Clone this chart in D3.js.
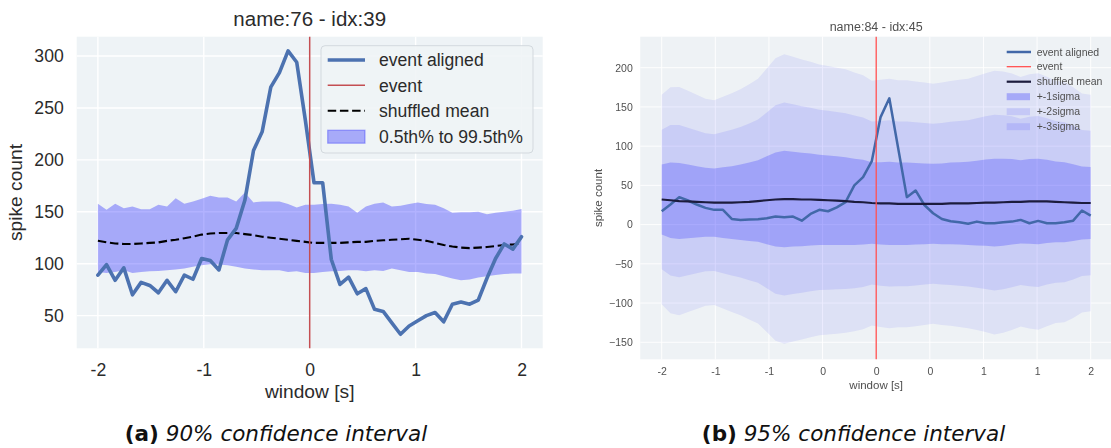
<!DOCTYPE html>
<html>
<head>
<meta charset="utf-8">
<script src="https://cdn.jsdelivr.net/npm/d3@7"></script>
<style>
  html, body { margin: 0; padding: 0; background: #fff; }
  svg { display: block; }
</style>
</head>
<body>
<svg id="fig" width="1111" height="448"></svg>
<script>
// Time base shared by both panels: 50 bin centres across the ±2 s window
const windowSec = d3.range(50).map(i => -2 + i * 4 / 49);

// ---- Panel (a): name 76, idx 39 — percentile band of the shuffled counts
const alignedA = [89, 99, 84, 96, 70, 82, 79, 72, 84, 73,
  89, 85, 105, 103, 94, 123, 134, 161, 209, 227,
  270, 284, 305, 294, 238, 178, 178, 104, 80, 87,
  71, 76, 56, 54, 43, 32, 40, 45, 50, 53,
  44, 61, 63, 61, 65, 86, 105, 119, 114, 126];
const shuffledMeanA = [122, 120.5, 119.5, 119, 119, 119.5, 120, 120.5, 122, 123,
  124.5, 126, 128, 129, 129.5, 129.5, 129.5, 128.5, 127.5, 126,
  125, 124, 123, 122, 121, 120, 120, 120, 120, 120.5,
  121, 121, 122, 122.5, 123, 123.5, 124, 123, 122, 120,
  118, 116.5, 115.5, 115, 115.5, 116, 117, 118, 118.5, 119.5];
const pctHighA = [157.7, 152, 157.7, 153.5, 155, 152.5, 152.5, 156.7, 155, 163,
  157.7, 160, 162.5, 165.4, 163.8, 163.8, 160, 168.6, 159, 160,
  160, 160, 157.4, 154.2, 156.7, 156.7, 157.4, 157.7, 156.7, 155,
  149, 155, 157.7, 159, 155, 155.8, 157.4, 159, 157.4, 156.7,
  153.5, 149, 149.5, 149.5, 150, 147.5, 149, 150, 151, 152.6];
const pctLowA = [92, 91, 92, 93.7, 91, 92, 92.8, 93, 93.7, 94.4,
  95.3, 97, 98.5, 99.5, 99.2, 98.5, 97, 95.3, 94.4, 93.7,
  93.7, 93.7, 92, 92.8, 91, 91, 92, 92.8, 93, 93.7,
  93.7, 92.8, 93.7, 93, 95.3, 93.7, 92, 92, 90.5, 90,
  88, 85.7, 84, 84.7, 86.7, 88, 89, 90, 90.5, 90.5];
const yTicksA = [50, 100, 150, 200, 250, 300];
const xTicksA = [-2, -1, 0, 1, 2];
const legendA = ["event aligned", "event", "shuffled mean", "0.5th% to 99.5th%"];

// ---- Panel (b): name 84, idx 45 — sigma bands around the shuffled mean
const alignedB = [17, 25.6, 35, 30.7, 25.6, 21.3, 18.8, 18.8, 7.2, 6,
  6.4, 6.8, 8.1, 10.2, 9.4, 10.2, 5, 13.6, 18.8, 17,
  22, 28.6, 50, 60.5, 81, 137, 161, 98, 35, 43.5,
  25, 14.5, 7.2, 4.3, 3, 1, 3.8, 1.7, 1.7, 3,
  3.8, 6, 1.7, 4.7, 1.7, 1.7, 3, 5, 18, 11.5];
const shuffledMeanB = [32, 31, 30, 29.5, 29, 28.5, 28, 28, 28, 28.5,
  29, 30, 31, 32, 32.5, 32.5, 32, 32, 31.5, 31,
  30.5, 30, 29, 28.5, 27.5, 27, 27, 26.5, 26.5, 26.5,
  26.5, 26.5, 26.5, 27, 27, 27, 27.5, 28, 28, 28.5,
  29, 29, 29.5, 29.5, 29.5, 29, 28.5, 28, 27.5, 27.5];
const shuffledSdB = [44.5, 48, 48.5, 47, 45.5, 44, 43.5, 45, 46.5, 48,
  50, 52, 56, 60, 61.5, 60.5, 59.5, 58.5, 57.5, 57,
  56.5, 56, 55, 54, 52, 52.5, 53, 52.5, 52.5, 52,
  51.5, 51, 51.5, 52, 52.5, 53, 54, 55, 56, 55.5,
  54.5, 53, 54, 54.5, 53, 51.5, 51, 49, 46.5, 46];
const sigmaLevels = [3, 2, 1];
const yTicksB = [-150, -100, -50, 0, 50, 100, 150, 200];
const xTicksB = [-2, -1.5, -1, -0.5, 0, 0.5, 1, 1.5, 2];
const legendB = ["event aligned", "event", "shuffled mean", "+-1sigma", "+-2sigma", "+-3sigma"];

const captionA = ["(a)", " 90% confidence interval"];
const captionB = ["(b)", " 95% confidence interval"];

const SANS = "'Liberation Sans', Arial, Helvetica, sans-serif";
const idx = d3.range(windowSec.length);

const svg = d3.select("#fig");
svg.append("rect").attr("width", 1111).attr("height", 448).attr("fill", "#fff");

const defs = svg.append("defs");
defs.append("filter").attr("id", "soft")
  .attr("x", "-5%").attr("y", "-5%").attr("width", "110%").attr("height", "110%")
  .append("feGaussianBlur").attr("stdDeviation", 0.75);

function styleTicks(sel, size, color) {
  sel.select(".domain").remove();
  sel.selectAll("text").attr("font-family", SANS).attr("font-size", size).attr("fill", color);
}

// =========================== Panel (a) ===========================
{
  const g = svg.append("g");
  const x = d3.scaleLinear([-2.2, 2.2], [76.7, 542.7]);
  const y = d3.scaleLinear([18.5, 318.6], [348.3, 36.7]);
  const [x0, x1] = x.range();
  const [yb, yt] = y.range();

  g.append("rect").attr("x", x0).attr("y", yt).attr("width", x1 - x0).attr("height", yb - yt)
    .attr("fill", "#eef3f6");

  g.selectAll("line.gy").data(yTicksA).join("line").attr("class", "gy")
    .attr("x1", x0).attr("x2", x1).attr("y1", d => y(d)).attr("y2", d => y(d))
    .attr("stroke", "#fff").attr("stroke-width", 1.4);
  g.selectAll("line.gx").data(xTicksA).join("line").attr("class", "gx")
    .attr("x1", d => x(d)).attr("x2", d => x(d)).attr("y1", yt).attr("y2", yb)
    .attr("stroke", "#fff").attr("stroke-width", 1.4);

  // percentile band of the shuffled distribution
  g.append("path").datum(idx)
    .attr("d", d3.area().x(i => x(windowSec[i])).y0(i => y(pctLowA[i])).y1(i => y(pctHighA[i])))
    .attr("fill", "#0000ff").attr("fill-opacity", 0.3);

  g.append("path").datum(idx)
    .attr("d", d3.line().x(i => x(windowSec[i])).y(i => y(shuffledMeanA[i])))
    .attr("fill", "none").attr("stroke", "#000").attr("stroke-width", 2.1)
    .attr("stroke-dasharray", "8.5,3.7");

  g.append("path").datum(idx)
    .attr("d", d3.line().x(i => x(windowSec[i])).y(i => y(alignedA[i])))
    .attr("fill", "none").attr("stroke", "#4c72b0").attr("stroke-width", 3.6)
    .attr("stroke-linejoin", "round").attr("stroke-linecap", "round");

  g.append("line").attr("x1", x(0)).attr("x2", x(0)).attr("y1", yt).attr("y2", yb)
    .attr("stroke", "#c44e52").attr("stroke-width", 1.5);

  g.append("g").attr("transform", `translate(${x0},0)`)
    .call(d3.axisLeft(y).tickValues(yTicksA).tickSize(0).tickPadding(13).tickFormat(d => String(d)))
    .call(s => styleTicks(s, 17.6, "#2b2b2b"));
  g.append("g").attr("transform", `translate(0,${yb})`)
    .call(d3.axisBottom(x).tickValues(xTicksA).tickSize(0).tickPadding(15.5).tickFormat(d => String(d)))
    .call(s => styleTicks(s, 17.6, "#2b2b2b"));

  g.append("text").attr("x", (x0 + x1) / 2).attr("y", 26).attr("text-anchor", "middle")
    .attr("font-family", SANS).attr("font-size", 20.5).attr("fill", "#2b2b2b")
    .text("name:76 - idx:39");
  g.append("text").attr("x", (x0 + x1) / 2).attr("y", 398).attr("text-anchor", "middle")
    .attr("font-family", SANS).attr("font-size", 19.2).attr("fill", "#2b2b2b")
    .text("window [s]");
  g.append("text").attr("transform", `translate(22,${(yt + yb) / 2}) rotate(-90)`)
    .attr("text-anchor", "middle")
    .attr("font-family", SANS).attr("font-size", 19.2).attr("fill", "#2b2b2b")
    .text("spike count");

  // legend
  const lg = g.append("g");
  lg.append("rect").attr("x", 321).attr("y", 45.7).attr("width", 212).attr("height", 107.3)
    .attr("rx", 4).attr("fill", "#eef3f6").attr("fill-opacity", 0.85)
    .attr("stroke", "#d3d9de").attr("stroke-width", 1);
  const rowY = [60, 85.3, 110.7, 136.7];
  const hx0 = 327.7, hx1 = 365;
  lg.append("line").attr("x1", hx0).attr("x2", hx1).attr("y1", rowY[0]).attr("y2", rowY[0])
    .attr("stroke", "#4c72b0").attr("stroke-width", 3.6);
  lg.append("line").attr("x1", hx0).attr("x2", hx1).attr("y1", rowY[1]).attr("y2", rowY[1])
    .attr("stroke", "#c44e52").attr("stroke-width", 1.5);
  lg.append("line").attr("x1", hx0).attr("x2", hx1).attr("y1", rowY[2]).attr("y2", rowY[2])
    .attr("stroke", "#000").attr("stroke-width", 2.1).attr("stroke-dasharray", "8.5,3.7");
  lg.append("rect").attr("x", hx0).attr("y", rowY[3] - 6.5).attr("width", hx1 - hx0).attr("height", 13)
    .attr("fill", "#0000ff").attr("fill-opacity", 0.3)
    .attr("stroke", "#0000ff").attr("stroke-opacity", 0.3).attr("stroke-width", 1.2);
  lg.selectAll("text").data(legendA).join("text")
    .attr("x", 379).attr("y", (d, i) => rowY[i]).attr("dy", "0.36em")
    .attr("font-family", SANS).attr("font-size", 17.6).attr("fill", "#2b2b2b")
    .text(d => d);
}

// =========================== Panel (b) ===========================
{
  const g = svg.append("g").attr("filter", "url(#soft)");
  const x = d3.scaleLinear([-2.2, 2.2], [640.25, 1112.15]);
  const y = d3.scaleLinear([-171.7, 239.5], [359.3, 36.7]);
  const [x0, x1] = x.range();
  const [yb, yt] = y.range();

  g.append("rect").attr("x", x0).attr("y", yt).attr("width", x1 - x0).attr("height", yb - yt)
    .attr("fill", "#eef2f5");

  g.selectAll("line.gy").data(yTicksB).join("line").attr("class", "gy")
    .attr("x1", x0).attr("x2", x1).attr("y1", d => y(d)).attr("y2", d => y(d))
    .attr("stroke", "#fff").attr("stroke-width", 1).attr("stroke-opacity", 0.9);
  g.selectAll("line.gx").data(xTicksB).join("line").attr("class", "gx")
    .attr("x1", d => x(d)).attr("x2", d => x(d)).attr("y1", yt).attr("y2", yb)
    .attr("stroke", "#fff").attr("stroke-width", 1).attr("stroke-opacity", 0.9);

  // mean ± k·sd bands, widest first
  const bandOpacity = { 3: 0.081, 2: 0.104, 1: 0.25 };
  sigmaLevels.forEach(k => {
    g.append("path").datum(idx)
      .attr("d", d3.area().x(i => x(windowSec[i]))
        .y0(i => y(shuffledMeanB[i] - k * shuffledSdB[i]))
        .y1(i => y(shuffledMeanB[i] + k * shuffledSdB[i])))
      .attr("fill", "rgb(40,40,255)").attr("fill-opacity", bandOpacity[k]);
  });

  g.append("path").datum(idx)
    .attr("d", d3.line().x(i => x(windowSec[i])).y(i => y(alignedB[i])))
    .attr("fill", "none").attr("stroke", "#4268a8").attr("stroke-width", 2.5)
    .attr("stroke-linejoin", "round");
  g.append("path").datum(idx)
    .attr("d", d3.line().x(i => x(windowSec[i])).y(i => y(shuffledMeanB[i])))
    .attr("fill", "none").attr("stroke", "#1b1b3c").attr("stroke-width", 2.2);
  g.append("line").attr("x1", x(0)).attr("x2", x(0)).attr("y1", yt).attr("y2", yb)
    .attr("stroke", "#ff4f4f").attr("stroke-width", 1.3);

  g.append("g").attr("transform", `translate(${x0},0)`)
    .call(d3.axisLeft(y).tickValues(yTicksB).tickSize(0).tickPadding(7.5)
      .tickFormat(d => (d < 0 ? "\u2212" : "") + Math.abs(d)))
    .call(s => styleTicks(s, 10.5, "#505050"));
  g.append("g").attr("transform", `translate(0,${yb})`)
    .call(d3.axisBottom(x).tickValues(xTicksB).tickSize(0).tickPadding(8.7)
      .tickFormat(d => String(Math.trunc(d))))
    .call(s => styleTicks(s, 10.5, "#505050"));

  g.append("text").attr("x", x(0)).attr("y", 31).attr("text-anchor", "middle")
    .attr("font-family", SANS).attr("font-size", 12.5).attr("fill", "#505050")
    .text("name:84 - idx:45");
  g.append("text").attr("x", x(0)).attr("y", 388.5).attr("text-anchor", "middle")
    .attr("font-family", SANS).attr("font-size", 11.5).attr("fill", "#505050")
    .text("window [s]");
  g.append("text").attr("transform", `translate(601.5,${(yt + yb) / 2}) rotate(-90)`)
    .attr("text-anchor", "middle")
    .attr("font-family", SANS).attr("font-size", 11.5).attr("fill", "#505050")
    .text("spike count");

  // legend (no frame)
  const rowY = [52, 66.7, 81.7, 96.7, 111.7, 126.7];
  const hx0 = 1006.7, hx1 = 1031;
  const lg = g.append("g");
  lg.append("line").attr("x1", hx0).attr("x2", hx1).attr("y1", rowY[0]).attr("y2", rowY[0])
    .attr("stroke", "#4268a8").attr("stroke-width", 2.5);
  lg.append("line").attr("x1", hx0).attr("x2", hx1).attr("y1", rowY[1]).attr("y2", rowY[1])
    .attr("stroke", "#ff4f4f").attr("stroke-width", 1.3);
  lg.append("line").attr("x1", hx0).attr("x2", hx1).attr("y1", rowY[2]).attr("y2", rowY[2])
    .attr("stroke", "#1b1b3c").attr("stroke-width", 2.2);
  [1, 2, 3].forEach((k, j) => {
    lg.append("rect").attr("x", hx0).attr("y", rowY[3 + j] - 3.5).attr("width", hx1 - hx0 - 1).attr("height", 7)
      .attr("fill", "rgb(40,40,255)").attr("fill-opacity", k === 1 ? 0.3 : 0.13);
  });
  lg.selectAll("text").data(legendB).join("text")
    .attr("x", 1036.7).attr("y", (d, i) => rowY[i]).attr("dy", "0.35em")
    .attr("font-family", SANS).attr("font-size", 10.5).attr("fill", "#505050")
    .text(d => d);
}

// =========================== Captions ===========================
function caption(cx, parts) {
  const t = svg.append("text").attr("x", cx).attr("y", 441).attr("text-anchor", "middle")
    .attr("font-family", "'DejaVu Sans', sans-serif").attr("font-size", 21.5).attr("fill", "#111");
  t.append("tspan").attr("font-weight", "bold").text(parts[0]);
  t.append("tspan").attr("font-style", "italic").text(parts[1]);
}
caption(276, captionA);
caption(853.5, captionB);
</script>
</body>
</html>
